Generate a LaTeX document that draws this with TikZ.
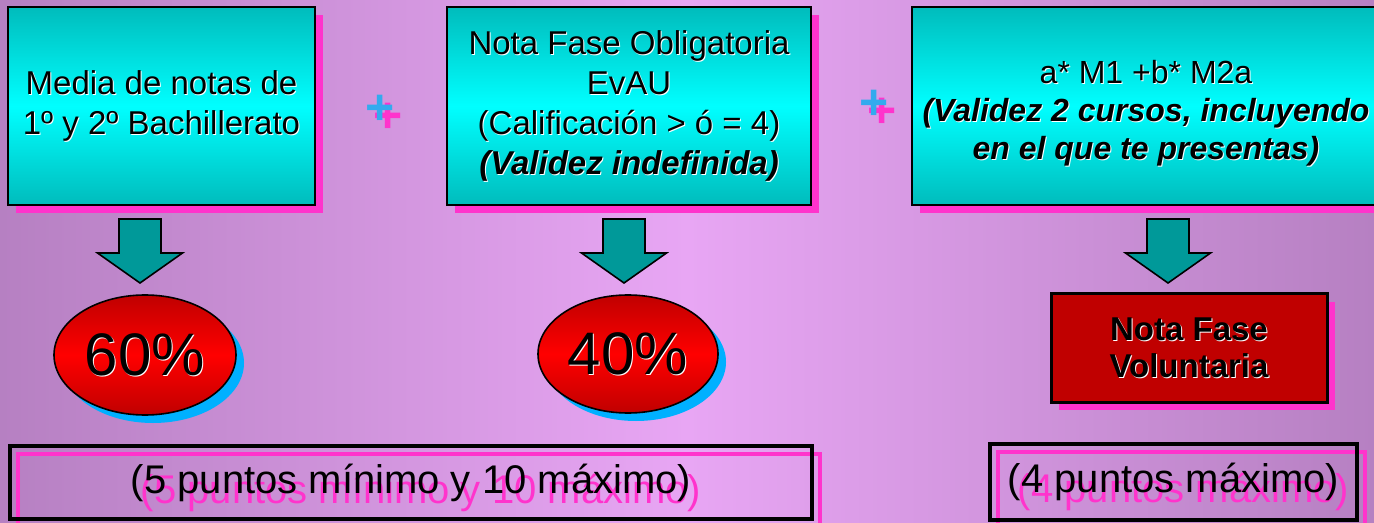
\documentclass[tikz,border=0pt]{standalone}
\usepackage{fontspec}
\setmainfont{Liberation Sans}
\usetikzlibrary{shapes.geometric,shadows}

\definecolor{bgside}{RGB}{182,128,194}
\definecolor{bgmid}{RGB}{232,166,244}
\definecolor{boxteal}{RGB}{0,188,188}
\definecolor{shadowpink}{RGB}{255,51,204}
\definecolor{shadowblue}{RGB}{0,176,255}
\definecolor{arrowteal}{RGB}{0,153,153}
\definecolor{plusblue}{RGB}{51,170,238}
\definecolor{darkred}{RGB}{192,0,0}

% text with a shifted coloured copy behind it
\newcommand\shtext[4]{\leavevmode\rlap{\smash{\hspace*{#2}\raisebox{-#3}{\color{#1}#4}}}#4}
\newcommand\halo[1]{\shtext{white}{0.5pt}{0.5pt}{#1}}

\tikzset{
	pinkshadow/.style={drop shadow={shadow xshift=4pt, shadow yshift=-4pt, fill=shadowpink, opacity=1}},
	infobox/.style={rectangle, draw=black, line width=1.2pt, inner sep=0pt, align=center,
		top color=boxteal, bottom color=boxteal, middle color=cyan,
		font=\fontsize{16.5}{20}\selectfont, pinkshadow},
	pct/.style={ellipse, draw=black, line width=0.8pt, inner sep=0pt,
		top color=darkred, bottom color=darkred, middle color=red,
		font=\fontsize{30}{36}\selectfont,
		drop shadow={shadow xshift=4pt, shadow yshift=-4pt, fill=shadowblue, opacity=1}},
	resultbox/.style={rectangle, draw=black, line width=1.5pt, fill=darkred, inner sep=0pt,
		align=center, font=\bfseries\fontsize{16.5}{18.5}\selectfont, pinkshadow},
	pointsbox/.style={rectangle, draw=black, line width=2pt, inner sep=0pt,
		font=\fontsize{20}{24}\selectfont,
		drop shadow={shadow xshift=4pt, shadow yshift=-4pt, fill=none, draw=shadowpink,
			line width=2pt, opacity=1}},
	plussign/.style={text=plusblue, inner sep=0pt, font=\bfseries\fontsize{25}{25}\selectfont},
	downarrow/.style={draw=black, line width=0.8pt, fill=arrowteal, line join=miter}
}

\begin{document}
\begin{tikzpicture}[x=0.5pt, y=-0.5pt]
	\useasboundingbox (0,0) rectangle (1374,523);
	\shade[left color=bgside, right color=bgside, middle color=bgmid] (0,0) rectangle (1374,523);

	% top row
	\node[infobox, minimum width=153.5pt, minimum height=99pt] (media) at (161.5,106)
		{\halo{Media de notas de}\\\halo{1º y 2º Bachillerato}};
	\node[infobox, minimum width=182pt, minimum height=99pt] (obligatoria) at (629,106)
		{\halo{Nota Fase Obligatoria}\\\halo{EvAU}\\\halo{(Calificación > ó = 4)}\\
		\bfseries\itshape\halo{(Validez indefinida)}};
	\node[infobox, minimum width=234pt, minimum height=99pt,
		font=\fontsize{16}{19}\selectfont] (ponderacion) at (1146,106)
		{\mbox{}\\\halo{a* M1 +b* M2a}\\
		\bfseries\itshape\halo{(Validez 2 cursos, incluyendo}\\
		\bfseries\itshape\halo{en el que te presentas)}};

	\node[plussign] (plusA) at (380,110) {\shtext{shadowpink}{4pt}{4pt}{+}};
	\node[plussign] (plusB) at (874,105) {\shtext{shadowpink}{4pt}{4pt}{+}};

	% arrows
	\foreach \name/\x in {arrA/140, arrB/624, arrC/1168} {
		\coordinate (\name) at (\x,219);
		\draw[downarrow] (\name) ++(-21,0) -- ++(42,0) -- ++(0,34) -- ++(21.5,0)
			-- ++(-42.5,30) -- ++(-42.5,-30) -- ++(21.5,0) -- cycle;
	}

	% middle row
	\node[pct, minimum width=91pt, minimum height=60pt] (pctA) at (145,355) {\halo{60\%}};
	\node[pct, minimum width=90pt, minimum height=59pt] (pctB) at (628,354) {\halo{40\%}};
	\node[resultbox, minimum width=138pt, minimum height=54pt] (voluntaria) at (1189,348)
		{\halo{Nota Fase}\\\halo{Voluntaria}};

	% bottom row
	\node[pointsbox, minimum width=401pt, minimum height=36.5pt] (puntosA) at (411,482.5)
		{\shtext{shadowpink}{5pt}{5pt}{(5 puntos mínimo y 10 máximo)}};
	\node[pointsbox, minimum width=183.5pt, minimum height=38pt] (puntosB) at (1173.5,482)
		{\shtext{shadowpink}{5pt}{5pt}{(4 puntos máximo)}};
\end{tikzpicture}
\end{document}
